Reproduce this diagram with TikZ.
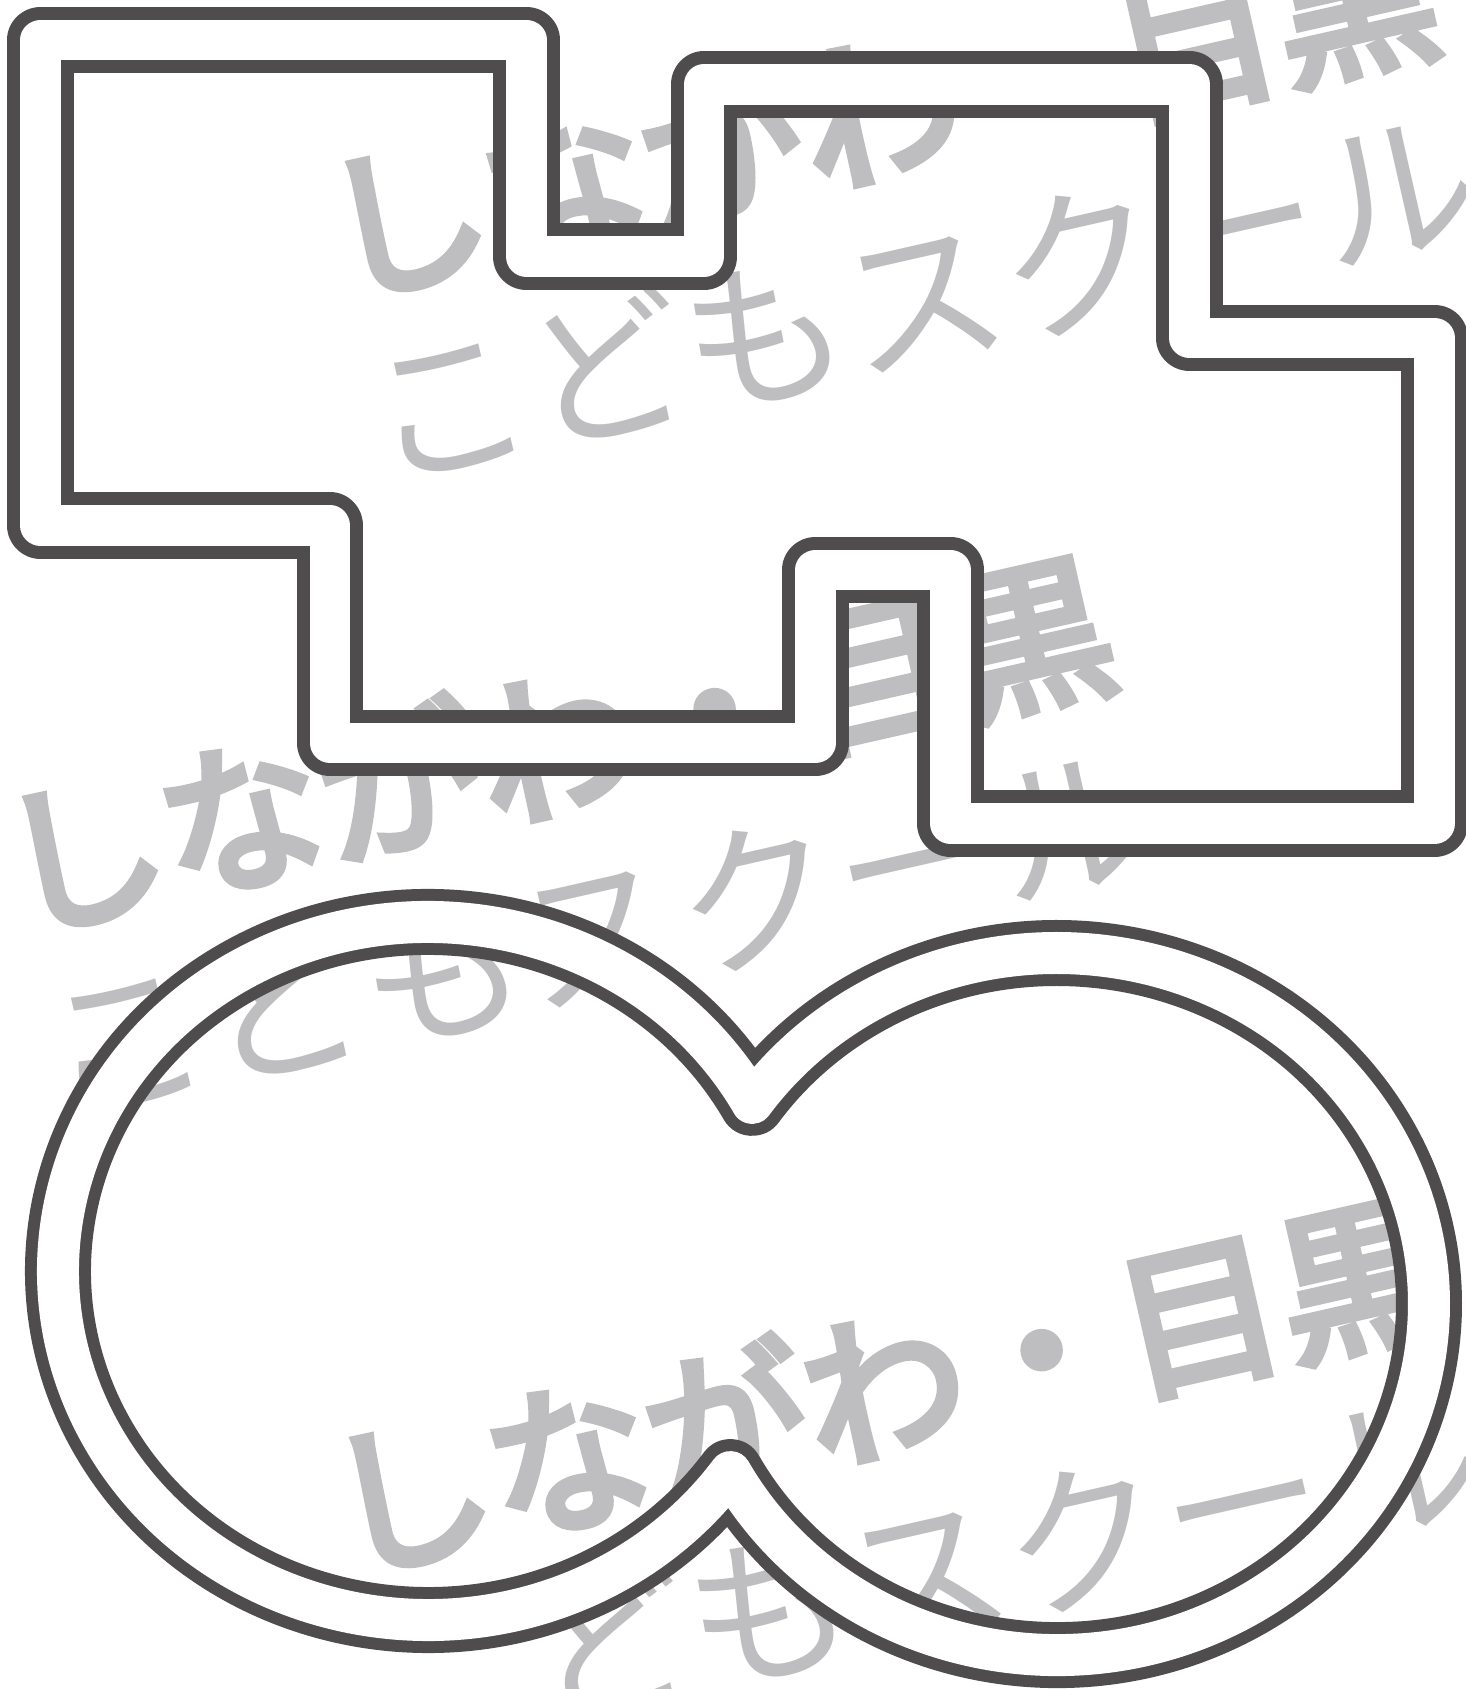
\documentclass[tikz,border=0pt]{standalone}
\usepackage{fontspec}
\newfontfamily\jpfont{Noto Sans CJK JP}
\newfontfamily\jpheadfont[FakeBold=5]{Noto Sans CJK JP}
\definecolor{lineg}{RGB}{78,76,77}
\definecolor{markg}{RGB}{190,190,192}

\begin{document}
\begin{tikzpicture}[x=1pt,y=1pt,
  wmhead/.style={text=markg,inner sep=0pt,anchor=base west,font=\jpheadfont\fontsize{162}{170}\selectfont},
  wmtail/.style={text=markg,inner sep=0pt,anchor=base west,font=\jpfont\fontsize{162}{170}\selectfont},
  bandline/.style={line join=round}]
\useasboundingbox (0,0) rectangle (1466,-1689);
\fill[white] (0,0) rectangle (1466,-1689);

% watermark, three copies
\foreach \wx/\wy/\wn in {340.2/-295.7/a, 17.2/-930.7/b, 344.2/-1571.7/c}{
\begin{scope}[shift={(\wx,\wy)},rotate=12.8,transform shape]
\node[wmhead] (head\wn) at (0,0) {しながわ・目黒};
\node[wmtail] (tail\wn) at (0,-192) {こどもスクール};
\end{scope}
}

% block shape: dark band, then white inside it
\foreach \w/\c in {66.5/lineg,40.5/white}
\draw[bandline,line width=\w pt,draw=\c] (40.7,-40) -- (526.4,-40) -- (526.4,-256.7) -- (704,-256.7) -- (704,-84.5) -- (1189.7,-84.5) -- (1189.7,-338) -- (1434.7,-338) -- (1434.7,-823.6) -- (950.5,-823.6) -- (950.5,-570) -- (815.5,-570) -- (815.5,-742.8) -- (330,-742.8) -- (330,-525.6) -- (40.7,-525.6) -- cycle;

% two joined ellipses
\foreach \w/\c in {66/lineg,42/white}
\draw[bandline,line width=\w pt,draw=\c] (752.2,-1102.8)
  arc[start angle=28.81,end angle=324.81,x radius=370,y radius=349]
  arc[start angle=-151.39,end angle=145.02,x radius=372,y radius=351] -- cycle;
\end{tikzpicture}
\end{document}
